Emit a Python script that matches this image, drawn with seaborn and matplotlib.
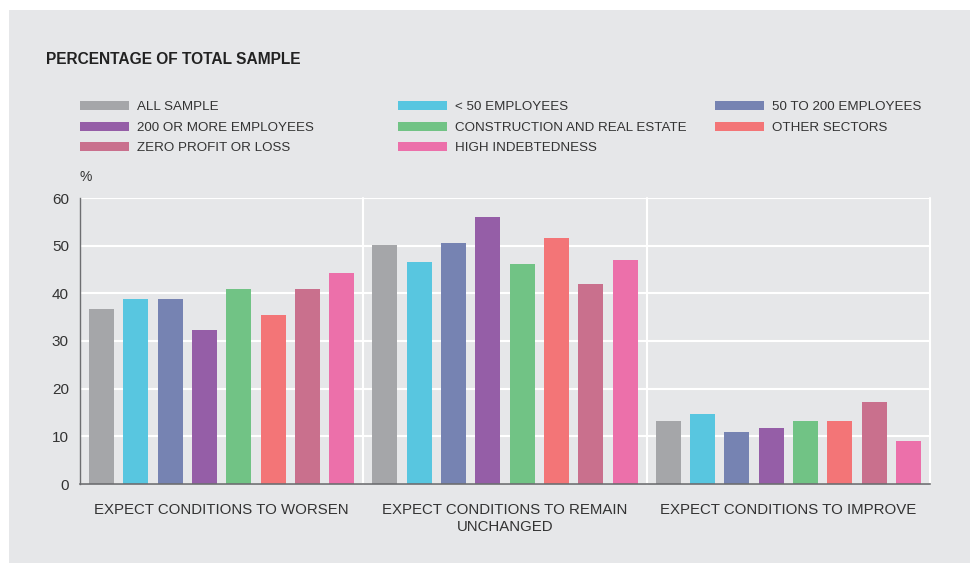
import pandas as pd
import seaborn as sns
import matplotlib.pyplot as plt
from matplotlib.patches import Patch, Rectangle

# Data
conditions = ["EXPECT CONDITIONS TO WORSEN",
              "EXPECT CONDITIONS TO REMAIN\nUNCHANGED",
              "EXPECT CONDITIONS TO IMPROVE"]
groups = ["ALL SAMPLE", "< 50 EMPLOYEES", "50 TO 200 EMPLOYEES",
          "200 OR MORE EMPLOYEES", "CONSTRUCTION AND REAL ESTATE",
          "OTHER SECTORS", "ZERO PROFIT OR LOSS", "HIGH INDEBTEDNESS"]
worsen = [36.7, 38.8, 38.8, 32.3, 40.9, 35.5, 40.9, 44.3]
unchanged = [50.1, 46.6, 50.6, 56.0, 46.2, 51.6, 42.0, 47.0]
improve = [13.2, 14.7, 10.9, 11.7, 13.2, 13.2, 17.2, 9.0]
colors = ["#a5a6a9", "#58c6e0", "#7683b2", "#955ea7",
          "#71c385", "#f37577", "#c9708d", "#ec70aa"]

rows = []
for cond, vals in zip(conditions, [worsen, unchanged, improve]):
    for g, v in zip(groups, vals):
        rows.append({"condition": cond, "group": g, "value": v})
df = pd.DataFrame(rows)

sns.set_style("white")
plt.rcParams["font.family"] = ["Liberation Sans", "DejaVu Sans"]

W, H = 973, 565
fig = plt.figure(figsize=(W / 100, H / 100), dpi=100)
fig.patch.set_facecolor("white")
fig.patches.append(Rectangle((9 / W, 1 - 563 / H), (970 - 9) / W, (563 - 10) / H,
                             transform=fig.transFigure, facecolor="#e6e7e9",
                             edgecolor="none", zorder=-10))

ax = fig.add_axes([80 / W, (H - 484) / H, (930 - 80) / W, (484 - 198) / H])
ax.patch.set_alpha(0)

sns.barplot(data=df, x="condition", y="value", hue="group", hue_order=groups,
            order=conditions, palette=colors, width=0.97, gap=0.27,
            saturation=1, legend=False, linewidth=0, edgecolor="none", ax=ax)

ax.set_xlim(-0.5, 2.5)
ax.set_ylim(0, 60)
ax.set_yticks(range(0, 61, 10))
ax.set_axisbelow(True)
ax.grid(axis="y", color="white", linewidth=1.5)
for xv in [0.5, 1.5, 2.5]:
    ax.axvline(xv, color="white", linewidth=1.5, zorder=0.5, clip_on=False)

for s in ["top", "right"]:
    ax.spines[s].set_visible(False)
ax.spines["left"].set_color("#6d6e71")
ax.spines["bottom"].set_color("#6d6e71")
ax.spines["left"].set_linewidth(1)
ax.spines["bottom"].set_linewidth(1.2)

ax.tick_params(axis="both", length=0, labelcolor="#333333")
ax.tick_params(axis="x", pad=14, labelsize=10.8)
ax.tick_params(axis="y", pad=8, labelsize=11)
ax.set_xlabel("")
ax.set_ylabel("")

fig.text(80 / W, 1 - 177 / H, "%", fontsize=10, color="#333333", va="center")
fig.text(46 / W, 1 - 60 / H, "PERCENTAGE OF TOTAL SAMPLE", fontsize=11.2,
         fontweight="semibold", color="#222222", va="center")

# legend: three columns placed separately to match spacing
col_x = [80, 398, 715]
cols = [[0, 3, 6], [1, 4, 7], [2, 5]]
for cx, idxs in zip(col_x, cols):
    handles = [Patch(facecolor=colors[i], edgecolor="none", label=groups[i]) for i in idxs]
    fig.legend(handles=handles, loc="upper left",
               bbox_to_anchor=(cx / W, 1 - 101 / H), frameon=False,
               fontsize=9.6, handlelength=3.65, handleheight=0.68,
               handletextpad=0.6, labelspacing=0.62, borderpad=0,
               borderaxespad=0, labelcolor="#333333")

fig.savefig("out.png", dpi=100)
